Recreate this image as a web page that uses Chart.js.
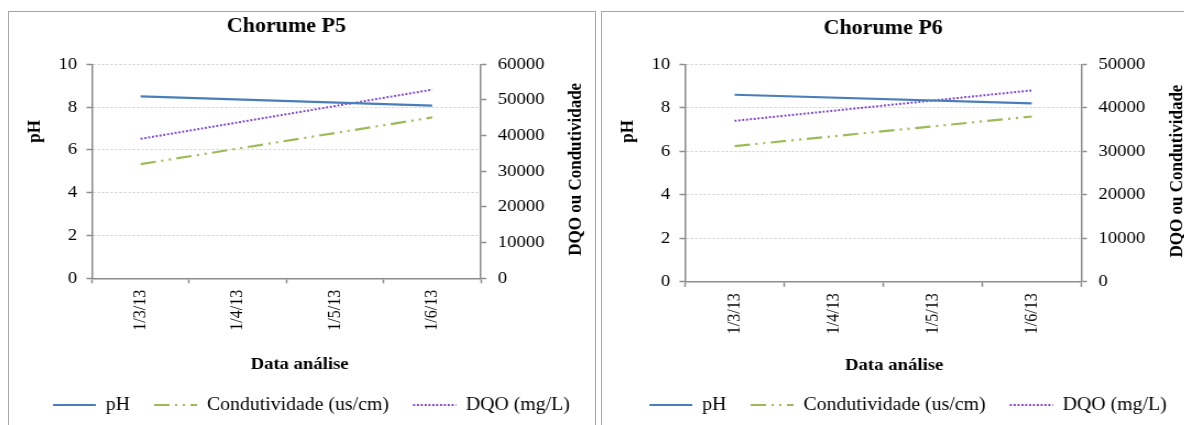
<!DOCTYPE html>
<html>
<head>
<meta charset="utf-8">
<title>Chorume P5 / P6</title>
<script src="https://cdn.jsdelivr.net/npm/chart.js@4.4.1/dist/chart.umd.min.js"></script>
<style>
  html, body { margin: 0; padding: 0; background: #fff; overflow: hidden; }
  body { width: 1184px; height: 425px; position: relative; }
  .frame { position: absolute; top: 11px; height: 440px; border: 1.5px solid #a6a6a6; box-sizing: border-box; }
  canvas { position: absolute; top: 12px; height: 412px; }
</style>
</head>
<body>
<div class="frame" style="left:8px;width:588px"></div>
<div class="frame" style="left:601px;width:620px"></div>
<!-- canvases are drawn 1.1x narrower and stretched back by CSS (wide serif look) -->
<canvas id="chartP5" width="532" height="412" style="left:9px;width:585.2px"></canvas>
<canvas id="chartP6" width="536" height="412" style="left:602px;width:589.6px"></canvas>
<script>
// categories (months of 2013)
const dates = ['1/3/13', '1/4/13', '1/5/13', '1/6/13'];

// Chorume P5 — only first and last analysis, joined by a straight line
const phP5 = [8.5, null, null, 8.07];
const condP5 = [32000, null, null, 45100];
const dqoP5 = [39100, null, null, 52900];

// Chorume P6
const phP6 = [8.6, null, null, 8.2];
const condP6 = [31200, null, null, 38000];
const dqoP6 = [37000, null, null, 44000];

// axis ranges
const phAxis = { min: 0, max: 10, step: 2 };
const rightAxisP5 = { min: 0, max: 60000, step: 10000 };
const rightAxisP6 = { min: 0, max: 50000, step: 10000 };

const FONT = '"Liberation Serif", "Times New Roman", serif';
const AXIS_GREY = '#8c8c8c';
const GRID_GREY = '#cfcfcf';

// axis titles placed like the original workbook (vertical ones read bottom-to-top)
const axisTitles = {
  id: 'axisTitles',
  afterDraw(chart, args, opts) {
    const { ctx, chartArea } = chart;
    const midX = (chartArea.left + chartArea.right) / 2;
    const midY = (chartArea.top + chartArea.bottom) / 2;
    const items = [
      [opts.left, chartArea.left + opts.leftDx, chartArea.top + opts.leftDy, -Math.PI / 2],
      [opts.right, chartArea.right + opts.rightDx, midY + opts.rightDy, -Math.PI / 2],
      [opts.bottom, midX + opts.bottomDx, chartArea.bottom + opts.bottomDy, 0],
    ];
    ctx.save();
    ctx.font = 'bold 17px ' + FONT;
    ctx.fillStyle = '#000';
    ctx.textAlign = 'center';
    ctx.textBaseline = 'middle';
    items.forEach(([text, x, y, rot]) => {
      ctx.save();
      ctx.translate(x, y);
      ctx.rotate(rot);
      ctx.fillText(text, 0, 0);
      ctx.restore();
    });
    ctx.restore();
  },
};

// legend samples keep the dataset's dash pattern and width
function legendLabels(chart) {
  const items = Chart.defaults.plugins.legend.labels.generateLabels(chart);
  items.forEach((item) => {
    const ds = chart.data.datasets[item.datasetIndex];
    item.lineDash = ds.borderDash || [];
    item.lineWidth = ds.borderWidth;
    item.strokeStyle = ds.borderColor;
  });
  return items;
}

function makeChart(id, cfg) {
  const ctx = document.getElementById(id);
  return new Chart(ctx, {
    type: 'line',
    data: {
      labels: dates,
      datasets: [
        {
          label: 'pH',
          data: cfg.ph,
          yAxisID: 'y',
          borderColor: '#4a7ebb',
          borderWidth: 2.2,
        },
        {
          label: 'Condutividade (us/cm)',
          data: cfg.cond,
          yAxisID: 'y1',
          borderColor: '#9bbb59',
          borderWidth: 2.2,
          borderDash: [14, 5, 2, 5, 2, 5],
        },
        {
          label: 'DQO (mg/L)',
          data: cfg.dqo,
          yAxisID: 'y1',
          borderColor: '#7b3ec6',
          borderWidth: 2,
          borderDash: [1.8, 1.7],
        },
      ],
    },
    options: {
      responsive: false,
      animation: false,
      devicePixelRatio: 1,
      spanGaps: true,
      elements: {
        point: { radius: 0, hoverRadius: 0 },
        line: { tension: 0, fill: false, borderCapStyle: 'butt' },
      },
      layout: { padding: { left: cfg.padLeft, right: 0, top: 0, bottom: 0 } },
      plugins: {
        tooltip: { enabled: false },
        title: {
          display: true,
          text: cfg.title,
          color: '#000',
          fullSize: false,
          font: { family: FONT, size: 20, weight: 'bold', lineHeight: 1.2 },
          padding: { top: cfg.titleTop, bottom: cfg.titleBottom },
        },
        legend: {
          position: 'bottom',
          labels: {
            color: '#000',
            font: { family: FONT, size: 18 },
            usePointStyle: true,
            pointStyle: 'line',
            pointStyleWidth: 39,
            padding: 22,
            generateLabels: legendLabels,
          },
        },
        axisTitles: {
          left: 'pH', leftDx: -52, leftDy: 67,
          right: 'DQO ou Condutividade', rightDx: 87, rightDy: -2,
          bottom: 'Data análise', bottomDx: cfg.xTitleDx, bottomDy: cfg.xTitleDy,
        },
      },
      scales: {
        x: {
          type: 'category',
          offset: true,
          grid: {
            offset: true,
            drawOnChartArea: false,
            tickLength: 5,
            tickColor: AXIS_GREY,
            tickWidth: 1.5,
          },
          border: { color: AXIS_GREY, width: 1.5 },
          ticks: {
            color: '#000',
            font: { family: FONT, size: 16 },
            minRotation: 90,
            maxRotation: 90,
            autoSkip: false,
            padding: 6.5,
          },
          afterFit(scale) { scale.height = cfg.xHeight; },
        },
        y: {
          position: 'left',
          min: phAxis.min,
          max: phAxis.max,
          grid: {
            color: GRID_GREY,
            lineWidth: 1,
            tickLength: 5,
            tickColor: AXIS_GREY,
            tickWidth: 1.5,
          },
          border: { color: AXIS_GREY, width: 1.5, dash: [2, 2] },
          ticks: {
            stepSize: phAxis.step,
            color: '#000',
            font: { family: FONT, size: 17 },
            padding: 8.5,
          },
          afterFit(scale) { scale.width = 75.45 - cfg.padLeft; },
        },
        y1: {
          position: 'right',
          min: cfg.right.min,
          max: cfg.right.max,
          grid: {
            drawOnChartArea: false,
            tickLength: 5,
            tickColor: AXIS_GREY,
            tickWidth: 1.5,
          },
          border: { color: AXIS_GREY, width: 1.5 },
          ticks: {
            stepSize: cfg.right.step,
            color: '#000',
            font: { family: FONT, size: 17 },
            padding: 10.5,
            callback: (v) => String(v),
          },
          afterFit(scale) { scale.width = cfg.rightWidth; },
        },
      },
    },
    plugins: [axisTitles],
  });
}

makeChart('chartP5', {
  title: 'Chorume P5',
  ph: phP5, cond: condP5, dqo: dqoP5,
  right: rightAxisP5,
  padLeft: 18,
  rightWidth: 102.9,
  titleTop: 3.2, titleBottom: 25.1,
  xHeight: 95.7, xTitleDx: 12, xTitleDy: 86.7,
});

makeChart('chartP6', {
  title: 'Chorume P6',
  ph: phP6, cond: condP6, dqo: dqoP6,
  right: rightAxisP6,
  padLeft: 20,
  rightWidth: 100.55,
  titleTop: 5.3, titleBottom: 23,
  xHeight: 92.2, xTitleDx: 10, xTitleDy: 83.9,
});
</script>
</body>
</html>
